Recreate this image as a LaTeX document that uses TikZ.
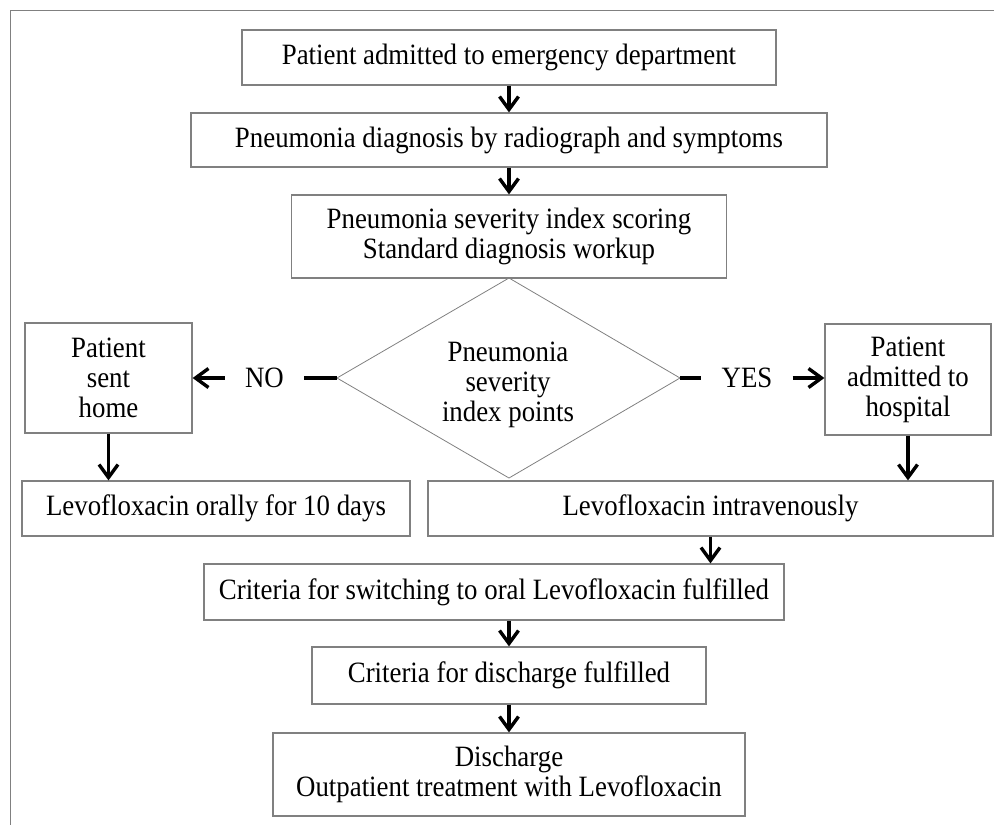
\documentclass[tikz,border=0pt]{standalone}
\usepackage{fontspec}
\setmainfont{Liberation Serif}[FakeStretch=0.91]
\usetikzlibrary{arrows.meta}
\definecolor{edgegray}{gray}{0.5}
\begin{document}
\begin{tikzpicture}[x=1pt,y=-1pt,
  font=\fontsize{29.5}{30}\selectfont,
  box/.style={draw=edgegray, line width=1.2pt, inner sep=0pt, align=center},
  flow/.style={line width=3.4pt, -{Straight Barb[length=13pt,width=19pt]}},
  stub/.style={line width=4pt},
  answer/.style={inner xsep=20pt, inner ysep=0pt},
]
\useasboundingbox (0,0) rectangle (994,825);

% outer frame
\draw[edgegray, line width=1pt] (10,825) -- (10,10) -- (994,10);

% main column
\node[box, minimum width=534pt, minimum height=55pt] (b1) at (509,57.5)
  {Patient admitted to emergency department};
\node[box, minimum width=636pt, minimum height=54pt] (b2) at (509,140)
  {Pneumonia diagnosis by radiograph and symptoms};
\node[box, minimum width=435pt, minimum height=83pt] (b3) at (509,236.5)
  {Pneumonia severity index scoring\\Standard diagnosis workup};

% decision diamond
\coordinate (diaN) at (509,278);
\coordinate (diaE) at (680,378);
\coordinate (diaS) at (509,478);
\coordinate (diaW) at (337,378);
\draw[edgegray, line width=0.8pt] (diaN) -- (diaE) -- (diaS) -- (diaW) -- cycle;
\node[align=center, inner sep=0pt] (dia) at (508,385)
  {Pneumonia\\severity\\index points};

% branches
\node[box, minimum width=167pt, minimum height=110pt] (home) at (108.5,378)
  {Patient\\sent\\home};
\node[box, minimum width=166pt, minimum height=111pt] (hosp) at (908,379.5)
  {Patient\\admitted to\\hospital};
\node[answer] (no) at (264.5,378) {NO};
\node[answer] (yes) at (747,378) {YES};

\node[box, minimum width=388pt, minimum height=55pt] (oral) at (216,508.5)
  {Levofloxacin orally for 10 days};
\node[box, minimum width=565pt, minimum height=55pt] (iv) at (710.5,508.5)
  {Levofloxacin intravenously};

% lower column
\node[box, minimum width=580pt, minimum height=56pt] (crit) at (494,592)
  {Criteria for switching to oral Levofloxacin fulfilled};
\node[box, minimum width=394pt, minimum height=57pt] (dis) at (509,675.5)
  {Criteria for discharge fulfilled};
\node[box, minimum width=472pt, minimum height=83pt] (out) at (509,774.5)
  {Discharge\\Outpatient treatment with Levofloxacin};

% connectors
\draw[flow] (b1.south) -- (b2.north);
\draw[flow] (b2.south) -- (b3.north);
\draw[stub] (diaW) -- (no.east);
\draw[flow] (no.west) -- (home.east |- no.west);
\draw[stub] (diaE) -- (yes.west);
\draw[flow] (yes.east) -- (hosp.west |- yes.east);
\draw[flow] (home.south) -- (home.south |- oral.north);
\draw[flow] (hosp.south) -- (hosp.south |- iv.north);
\draw[flow] (iv.south) -- (iv.south |- crit.north);
\draw[flow] (crit.south -| dis.north) -- (dis.north);
\draw[flow] (dis.south) -- (out.north);
\end{tikzpicture}
\end{document}
